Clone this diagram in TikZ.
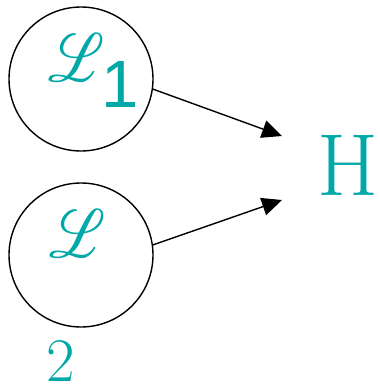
\documentclass[tikz,border=0pt]{standalone}
\usepackage{fontspec}
\newfontfamily\onefont{Liberation Sans}
\usepackage{mathrsfs}
\usepackage{graphicx}
\usetikzlibrary{arrows.meta}
\definecolor{tealtxt}{RGB}{0,168,168}
\begin{document}
\begin{tikzpicture}[x=1pt,y=-1pt,
  ring/.style={circle,draw,line width=1.4pt,minimum size=144pt,inner sep=0pt},
  lbl/.style={text=tealtxt,inner sep=0pt},
  scr/.style={lbl,xslant=-0.18,transform shape},
  conn/.style={line width=1.4pt,-{Triangle[length=20pt,width=18pt]}}]
\useasboundingbox (0,0) rectangle (380,384);
\node[ring] (c1) at (81,79) {};
\node[ring] (c2) at (81,255) {};
\node[scr,anchor=base] (l1) at (80,81) {\scalebox{6}[6.8]{$\mathscr{L}$}};
\node[lbl,anchor=base] (s1) at (120,107) {\fontsize{67}{67}\selectfont\onefont 1};
\node[scr,anchor=base] (l2) at (81,257) {\scalebox{6}[6.8]{$\mathscr{L}$}};
\node[lbl,anchor=base] (s2) at (61,381) {\fontsize{62}{62}\selectfont 2};
\node[lbl,anchor=base] (h) at (348,195) {\fontsize{88}{88}\selectfont H};
\coordinate (t1) at (282,136);
\coordinate (t2) at (282,200);
\draw[conn] (c1.-8) -- (t1);
\draw[conn] (c2.8) -- (t2);
\end{tikzpicture}
\end{document}
